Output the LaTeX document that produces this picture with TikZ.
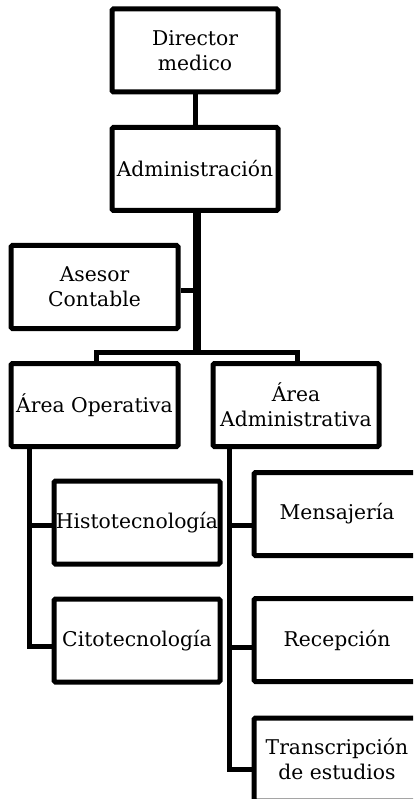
\documentclass[tikz,border=0pt]{standalone}
\usepackage{fontspec}
\setmainfont{DejaVu Serif}
\begin{document}
\begin{tikzpicture}[x=1pt,y=-1pt,
  orgbox/.style={draw, line width=5pt, rounded corners=1.5pt,
    minimum width=166pt, minimum height=83pt, align=center, inner sep=0pt,
    font=\fontsize{20.3}{25}\selectfont},
  link/.style={line width=5pt},
  trunk/.style={line width=7.5pt}]
\useasboundingbox (0,0) rectangle (413,799);
\begin{scope}
\clip (0,0) rectangle (413,799);
% boxes
\node[orgbox] (dir)   at (195,50.5)  {Director\\medico};
\node[orgbox] (adm)   at (195,169)   {Administración};
\node[orgbox, minimum width=167pt] (ases) at (94.5,287) {Asesor\\Contable};
\node[orgbox, minimum width=167pt] (op)   at (94.5,405) {Área Operativa};
\node[orgbox] (aadm)  at (296,405)   {Área\\Administrativa};
\node[orgbox] (histo) at (137,522.5) {Histotecnología};
\node[orgbox] (cito)  at (137,640.5) {Citotecnología};
\node[orgbox] (mens)  at (337,514)   {Mensajería};
\node[orgbox] (recep) at (337,640)   {Recepción};
\node[orgbox] (trans) at (337,759.5) {Transcripción\\de estudios};
% junction points
\coordinate (tk)  at (197,352);
\coordinate (bl)  at (96,352);
\coordinate (br)  at (297,352);
\coordinate (ac)  at (197,290);
\coordinate (lh)  at (29,525);
\coordinate (lc)  at (29,646);
\coordinate (rm)  at (229,525);
\coordinate (rr)  at (229,647);
\coordinate (rt)  at (229,769);
% connectors
\draw[link] (dir.south) -- (adm.north);
\draw[trunk] (tk |- adm.south) -- (tk);
\draw[link] (ases.east |- ac) -- (ac);
\draw[link] (bl |- op.north) -- (bl) -- (br) -- (br |- aadm.north);
\draw[link] (lh |- op.south) -- (lc) -- (lc -| cito.west);
\draw[link] (lh) -- (lh -| histo.west);
\draw[link] (rm |- aadm.south) -- (rt) -- (rt -| trans.west);
\draw[link] (rm) -- (rm -| mens.west);
\draw[link] (rr) -- (rr -| recep.west);
\end{scope}
\end{tikzpicture}
\end{document}
